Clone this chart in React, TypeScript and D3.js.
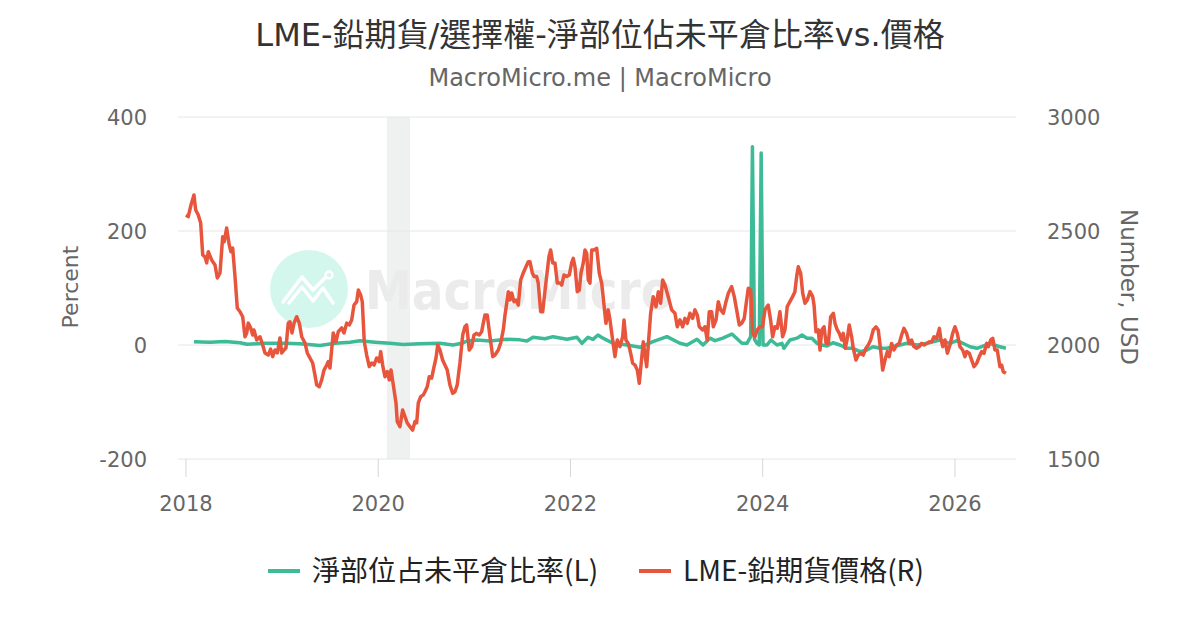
import * as d3 from "d3";
import { useRef, useEffect } from "react";

// x ticks / axis ticks
const xTicks = [2018, 2020, 2022, 2024, 2026];
const leftTicks = [-200, 0, 200, 400];
const rightTicks = [1500, 2000, 2500, 3000];
const recession: [number, number] = [2020.09, 2020.33];

const ratioName = "淨部位占未平倉比率(L)";
const priceName = "LME-鉛期貨價格(R)";

// 淨部位占未平倉比率 (%), [decimal year, value]
const ratioSeries: [number, number][] = [
  [2018.083, 5.8], [2018.25, 5], [2018.406, 6], [2018.562, 4], [2018.635, 1.2],
  [2018.822, 3], [2019.03, 3], [2019.186, 2], [2019.394, -1], [2019.55, 3],
  [2019.706, 5], [2019.81, 7.5], [2019.966, 5], [2020.122, 3], [2020.257, 1],
  [2020.434, 2], [2020.642, 3], [2020.778, 0], [2020.871, 3], [2020.923, 7],
  [2021.027, 8.8], [2021.163, 7], [2021.339, 10], [2021.474, 9], [2021.547, 7],
  [2021.61, 13.5], [2021.735, 11], [2021.818, 14.6], [2021.964, 10], [2022.068, 13.5],
  [2022.12, 3], [2022.182, 13.5], [2022.234, 10], [2022.286, 17.5], [2022.338, 12],
  [2022.442, 3], [2022.588, 0], [2022.723, -4], [2022.858, 5.8], [2023.004, 14.6],
  [2023.139, 3], [2023.212, 0], [2023.316, 10], [2023.379, 0], [2023.451, 12],
  [2023.503, 7.6], [2023.586, 12], [2023.68, 19.3], [2023.784, 3], [2023.836, 3],
  [2023.875, 14.6], [2023.893, 348], [2023.914, 10], [2023.94, 3], [2023.964, 0],
  [2023.984, 337], [2024.003, 0], [2024.044, 0], [2024.086, 8.8], [2024.148, 0],
  [2024.2, 3], [2024.221, -5.8], [2024.283, 8.8], [2024.356, 12], [2024.408, 17.5],
  [2024.46, 12], [2024.512, 12], [2024.564, 3], [2024.616, 0], [2024.668, -1.8],
  [2024.731, 4], [2024.803, 0], [2024.876, -5.8], [2024.939, -5.8], [2025.012, -11.7],
  [2025.085, -8.8], [2025.147, -3], [2025.22, -5.8], [2025.293, -5.8], [2025.355, -3],
  [2025.428, 0], [2025.501, 3], [2025.605, 0], [2025.709, 3], [2025.771, 5.8],
  [2025.844, 8.8], [2025.948, 3], [2026.021, 7.6], [2026.083, 3], [2026.156, -3],
  [2026.229, -5.8], [2026.291, -1.8], [2026.364, 3], [2026.406, 0], [2026.468, -3],
  [2026.53, -5.8],
];

// LME 鉛期貨價格 (USD), [decimal year, value]
const priceSeries: [number, number][] = [
  [2018.0, 2570], [2018.024, 2563], [2018.052, 2614], [2018.083, 2658], [2018.101, 2592],
  [2018.128, 2570], [2018.153, 2535], [2018.174, 2395], [2018.198, 2387], [2018.215, 2360],
  [2018.232, 2409], [2018.267, 2373], [2018.302, 2351], [2018.326, 2294], [2018.354, 2316],
  [2018.382, 2475], [2018.398, 2453], [2018.423, 2513], [2018.45, 2439], [2018.468, 2409],
  [2018.486, 2425], [2018.51, 2300], [2018.534, 2162], [2018.562, 2146], [2018.59, 2124],
  [2018.614, 2036], [2018.632, 2053], [2018.648, 2096], [2018.673, 2075], [2018.694, 2044],
  [2018.707, 2066], [2018.736, 2022], [2018.77, 2036], [2018.798, 2000], [2018.822, 1965],
  [2018.856, 1956], [2018.881, 1982], [2018.902, 1949], [2018.926, 1978], [2018.95, 1965],
  [2018.978, 2031], [2018.996, 1965], [2019.02, 1978], [2019.04, 1987], [2019.064, 2096],
  [2019.082, 2102], [2019.103, 2053], [2019.124, 2096], [2019.152, 2124], [2019.179, 2096],
  [2019.204, 2036], [2019.238, 2009], [2019.262, 1965], [2019.29, 1943], [2019.318, 1921],
  [2019.342, 1868], [2019.36, 1825], [2019.387, 1817], [2019.412, 1847], [2019.436, 1890],
  [2019.464, 1912], [2019.48, 1927], [2019.498, 1899], [2019.532, 2053], [2019.56, 2014],
  [2019.584, 2058], [2019.62, 2075], [2019.644, 2053], [2019.672, 2096], [2019.699, 2088],
  [2019.724, 2110], [2019.748, 2175], [2019.776, 2190], [2019.793, 2241], [2019.817, 2219],
  [2019.834, 2190], [2019.855, 2014], [2019.88, 1956], [2019.907, 1905], [2019.932, 1921],
  [2019.956, 1912], [2019.984, 1943], [2020.011, 1927], [2020.026, 1971], [2020.046, 1912],
  [2020.07, 1861], [2020.094, 1883], [2020.115, 1847], [2020.133, 1890], [2020.157, 1825],
  [2020.185, 1746], [2020.198, 1664], [2020.226, 1642], [2020.254, 1715], [2020.278, 1686],
  [2020.302, 1658], [2020.33, 1642], [2020.358, 1627], [2020.382, 1664], [2020.4, 1658],
  [2020.417, 1746], [2020.442, 1773], [2020.469, 1781], [2020.486, 1795], [2020.51, 1817],
  [2020.531, 1861], [2020.556, 1855], [2020.573, 1890], [2020.601, 1943], [2020.619, 2000],
  [2020.642, 1978], [2020.67, 1934], [2020.694, 1912], [2020.718, 1890], [2020.746, 1825],
  [2020.774, 1788], [2020.798, 1795], [2020.822, 1825], [2020.85, 1921], [2020.879, 2044],
  [2020.902, 2080], [2020.92, 2088], [2020.947, 1978], [2020.972, 1993], [2020.996, 2044],
  [2021.024, 2051], [2021.051, 2044], [2021.076, 2058], [2021.093, 2096], [2021.111, 2132],
  [2021.134, 2132], [2021.163, 2036], [2021.191, 1949], [2021.215, 1956], [2021.249, 1978],
  [2021.274, 2009], [2021.301, 2066], [2021.319, 2132], [2021.337, 2184], [2021.353, 2234],
  [2021.371, 2197], [2021.389, 2228], [2021.412, 2190], [2021.433, 2197], [2021.457, 2175],
  [2021.482, 2285], [2021.509, 2316], [2021.537, 2343], [2021.561, 2365], [2021.579, 2365],
  [2021.603, 2316], [2021.623, 2300], [2021.648, 2300], [2021.665, 2272], [2021.69, 2146],
  [2021.711, 2146], [2021.734, 2234], [2021.752, 2300], [2021.776, 2387], [2021.794, 2417],
  [2021.815, 2360], [2021.839, 2360], [2021.863, 2272], [2021.891, 2272], [2021.909, 2263],
  [2021.932, 2307], [2021.96, 2300], [2021.988, 2307], [2022.012, 2360], [2022.029, 2380],
  [2022.047, 2343], [2022.071, 2234], [2022.092, 2241], [2022.109, 2314], [2022.133, 2360],
  [2022.151, 2417], [2022.169, 2402], [2022.185, 2285], [2022.203, 2271], [2022.221, 2417],
  [2022.245, 2417], [2022.273, 2424], [2022.3, 2314], [2022.325, 2271], [2022.349, 2175],
  [2022.369, 2095], [2022.393, 2154], [2022.411, 2110], [2022.439, 2022], [2022.463, 1949],
  [2022.487, 2022], [2022.515, 1993], [2022.543, 2036], [2022.557, 2110], [2022.577, 2022],
  [2022.601, 2007], [2022.626, 1964], [2022.647, 1920], [2022.671, 1912], [2022.695, 1890],
  [2022.716, 1832], [2022.757, 2014], [2022.793, 1905], [2022.834, 2139], [2022.861, 2212],
  [2022.89, 2168], [2022.914, 2234], [2022.938, 2183], [2022.959, 2285], [2022.983, 2263],
  [2023.017, 2212], [2023.053, 2154], [2023.087, 2139], [2023.111, 2080], [2023.139, 2110],
  [2023.167, 2080], [2023.191, 2117], [2023.215, 2095], [2023.243, 2139], [2023.271, 2117],
  [2023.295, 2154], [2023.319, 2132], [2023.34, 2080], [2023.375, 2066], [2023.399, 2080],
  [2023.423, 2022], [2023.444, 2146], [2023.469, 2146], [2023.486, 2080], [2023.514, 2110],
  [2023.538, 2190], [2023.563, 2154], [2023.59, 2139], [2023.618, 2190], [2023.642, 2227],
  [2023.677, 2256], [2023.704, 2212], [2023.729, 2154], [2023.756, 2088], [2023.781, 2095],
  [2023.808, 2117], [2023.833, 2197], [2023.85, 2249], [2023.875, 2241], [2023.895, 2051],
  [2023.919, 2036], [2023.943, 2066], [2023.971, 2080], [2023.999, 2080], [2024.023, 2154],
  [2024.057, 2175], [2024.082, 2110], [2024.103, 2036], [2024.127, 2080], [2024.151, 2073],
  [2024.179, 2146], [2024.207, 2036], [2024.231, 2066], [2024.255, 2168], [2024.283, 2190],
  [2024.311, 2212], [2024.335, 2234], [2024.353, 2300], [2024.37, 2343], [2024.395, 2314],
  [2024.416, 2227], [2024.44, 2183], [2024.464, 2197], [2024.492, 2234], [2024.52, 2212],
  [2024.534, 2175], [2024.554, 2058], [2024.578, 2066], [2024.596, 1978], [2024.614, 2066],
  [2024.638, 2080], [2024.659, 2007], [2024.683, 2007], [2024.707, 2124], [2024.735, 2139],
  [2024.752, 2095], [2024.776, 2066], [2024.797, 2051], [2024.822, 2022], [2024.838, 2051],
  [2024.859, 1986], [2024.88, 2029], [2024.9, 2088], [2024.925, 2036], [2024.942, 1986],
  [2024.97, 1934], [2024.994, 1956], [2025.019, 1964], [2025.046, 1956], [2025.074, 1986],
  [2025.098, 2000], [2025.123, 2022], [2025.15, 2066], [2025.178, 2080], [2025.202, 2066],
  [2025.227, 1978], [2025.248, 1890], [2025.272, 1934], [2025.296, 1971], [2025.316, 1949],
  [2025.341, 2007], [2025.365, 1978], [2025.393, 2000], [2025.42, 2007], [2025.445, 2044],
  [2025.469, 2073], [2025.497, 2051], [2025.524, 2007], [2025.549, 2022], [2025.573, 1993],
  [2025.601, 1986], [2025.629, 1993], [2025.654, 2007], [2025.678, 2000], [2025.706, 2007],
  [2025.733, 2014], [2025.758, 2014], [2025.782, 2036], [2025.81, 2029], [2025.838, 2073],
  [2025.852, 2029], [2025.873, 1993], [2025.897, 2022], [2025.921, 1964], [2025.948, 2000],
  [2025.976, 2051], [2026.0, 2080], [2026.024, 2051], [2026.052, 1993], [2026.08, 1978],
  [2026.104, 1949], [2026.122, 1971], [2026.149, 1964], [2026.174, 1934], [2026.198, 1905],
  [2026.226, 1920], [2026.253, 1949], [2026.278, 1971], [2026.302, 1964], [2026.33, 2007],
  [2026.347, 1993], [2026.372, 2022], [2026.393, 2029], [2026.416, 1978], [2026.44, 1978],
  [2026.468, 1905], [2026.486, 1912], [2026.502, 1883], [2026.53, 1876],
];

const green = "#3dbb97";
const red = "#e8553d";
const fontLatin = "'DejaVu Sans', 'Noto Sans CJK TC', sans-serif";
const fontLegend = "'Noto Sans CJK TC', 'Noto Sans', sans-serif";

export default function App() {
  const svgRef = useRef<SVGSVGElement | null>(null);

  useEffect(() => {
    if (!svgRef.current) return;
    document.body.style.margin = "0";

    const plot = { left: 178, right: 1016, top: 117, bottom: 459 };

    const svg = d3.select(svgRef.current);
    svg.selectAll("*").remove();

    const x = d3.scaleLinear().domain([2017.917, 2026.635]).range([plot.left, plot.right]);
    const yL = d3.scaleLinear().domain([-200, 400]).range([plot.bottom, plot.top]);
    const yR = d3.scaleLinear().domain([1500, 3000]).range([plot.bottom, plot.top]);

    svg.append("rect").attr("width", 1200).attr("height", 630).attr("fill", "#fff");

    // titel
    svg.append("text")
      .attr("x", 600).attr("y", 46)
      .attr("text-anchor", "middle")
      .style("font", `32px ${fontLatin}`)
      .attr("fill", "#333")
      .text("LME-鉛期貨/選擇權-淨部位佔未平倉比率vs.價格");

    svg.append("text")
      .attr("x", 600).attr("y", 86)
      .attr("text-anchor", "middle")
      .style("font", `24px ${fontLatin}`)
      .attr("fill", "#666")
      .text("MacroMicro.me | MacroMicro");

    // recession band
    svg.append("rect")
      .attr("x", x(recession[0]))
      .attr("y", plot.top)
      .attr("width", x(recession[1]) - x(recession[0]))
      .attr("height", plot.bottom - plot.top)
      .attr("fill", "#eff1f0");

    // grid
    svg.append("g")
      .selectAll("line")
      .data(leftTicks)
      .join("line")
      .attr("x1", plot.left).attr("x2", plot.right)
      .attr("y1", d => yL(d)).attr("y2", d => yL(d))
      .attr("stroke", "#e6e6e6")
      .attr("stroke-width", 1);

    // watermark
    const wm = svg.append("g");
    wm.append("circle").attr("cx", 309).attr("cy", 289).attr("r", 39).attr("fill", "#d4f7ed");
    const icon = d3.line();
    wm.append("path")
      .attr("d", icon([[283, 302], [302, 277], [313, 290], [325, 278]]))
      .attr("fill", "none").attr("stroke", "#fff").attr("stroke-width", 3.5)
      .attr("stroke-linecap", "round").attr("stroke-linejoin", "round");
    wm.append("path")
      .attr("d", icon([[289, 303], [302, 287], [313, 301], [323, 288], [333, 303]]))
      .attr("fill", "none").attr("stroke", "#fff").attr("stroke-width", 3.5)
      .attr("stroke-linecap", "round").attr("stroke-linejoin", "round");
    wm.append("circle").attr("cx", 329).attr("cy", 275).attr("r", 3.5)
      .attr("fill", "none").attr("stroke", "#fff").attr("stroke-width", 2.5);
    wm.append("text")
      .attr("x", 365).attr("y", 309)
      .attr("textLength", 308)
      .attr("lengthAdjust", "spacingAndGlyphs")
      .style("font", `bold 54px ${fontLatin}`)
      .attr("fill", "#ebebeb")
      .text("MacroMicro");

    // x ticks
    svg.append("g")
      .selectAll("line")
      .data(xTicks)
      .join("line")
      .attr("x1", d => x(d)).attr("x2", d => x(d))
      .attr("y1", plot.bottom).attr("y2", plot.bottom + 18)
      .attr("stroke", "#d6d6d6");

    svg.append("g")
      .selectAll("text")
      .data(xTicks)
      .join("text")
      .attr("x", d => x(d)).attr("y", 511)
      .attr("text-anchor", "middle")
      .style("font", `21px ${fontLatin}`)
      .attr("fill", "#666")
      .text(d => String(d));

    // y labels
    svg.append("g")
      .selectAll("text")
      .data(leftTicks)
      .join("text")
      .attr("x", 147).attr("y", d => yL(d))
      .attr("dy", "0.36em")
      .attr("text-anchor", "end")
      .style("font", `21px ${fontLatin}`)
      .attr("fill", "#666")
      .text(d => String(d));

    svg.append("g")
      .selectAll("text")
      .data(rightTicks)
      .join("text")
      .attr("x", 1047).attr("y", d => yR(d))
      .attr("dy", "0.36em")
      .attr("text-anchor", "start")
      .style("font", `21px ${fontLatin}`)
      .attr("fill", "#666")
      .text(d => String(d));

    svg.append("text")
      .attr("transform", `translate(78,287) rotate(-90)`)
      .attr("text-anchor", "middle")
      .style("font", `22px ${fontLatin}`)
      .attr("fill", "#666")
      .text("Percent");

    svg.append("text")
      .attr("transform", `translate(1121,287) rotate(90)`)
      .attr("text-anchor", "middle")
      .style("font", `23px ${fontLatin}`)
      .attr("fill", "#666")
      .text("Number, USD");

    // lines
    svg.append("clipPath").attr("id", "plot-clip")
      .append("rect")
      .attr("x", plot.left).attr("y", plot.top - 5)
      .attr("width", plot.right - plot.left).attr("height", plot.bottom - plot.top + 10);

    const lineL = d3.line<[number, number]>().x(d => x(d[0])).y(d => yL(d[1]));
    const lineR = d3.line<[number, number]>().x(d => x(d[0])).y(d => yR(d[1]));

    const gLines = svg.append("g").attr("clip-path", "url(#plot-clip)");
    gLines.append("path")
      .attr("d", lineL(ratioSeries))
      .attr("fill", "none")
      .attr("stroke", green)
      .attr("stroke-width", 3.5)
      .attr("stroke-linejoin", "round");
    gLines.append("path")
      .attr("d", lineR(priceSeries))
      .attr("fill", "none")
      .attr("stroke", red)
      .attr("stroke-width", 3.5)
      .attr("stroke-linejoin", "round");

    // legend
    const legend = [
      { name: ratioName, color: green, x: 268 },
      { name: priceName, color: red, x: 639 },
    ];
    const lg = svg.append("g").selectAll("g").data(legend).join("g")
      .attr("transform", d => `translate(${d.x},571)`);
    lg.append("line")
      .attr("x1", 0).attr("x2", 32).attr("y1", 0).attr("y2", 0)
      .attr("stroke", d => d.color).attr("stroke-width", 4);
    lg.append("text")
      .attr("x", 44).attr("y", 0).attr("dy", "0.36em")
      .style("font", `28px ${fontLegend}`)
      .attr("fill", "#222")
      .text(d => d.name);
  }, []);

  return <svg ref={svgRef} width={1200} height={630} style={{ display: "block" }}></svg>;
}
